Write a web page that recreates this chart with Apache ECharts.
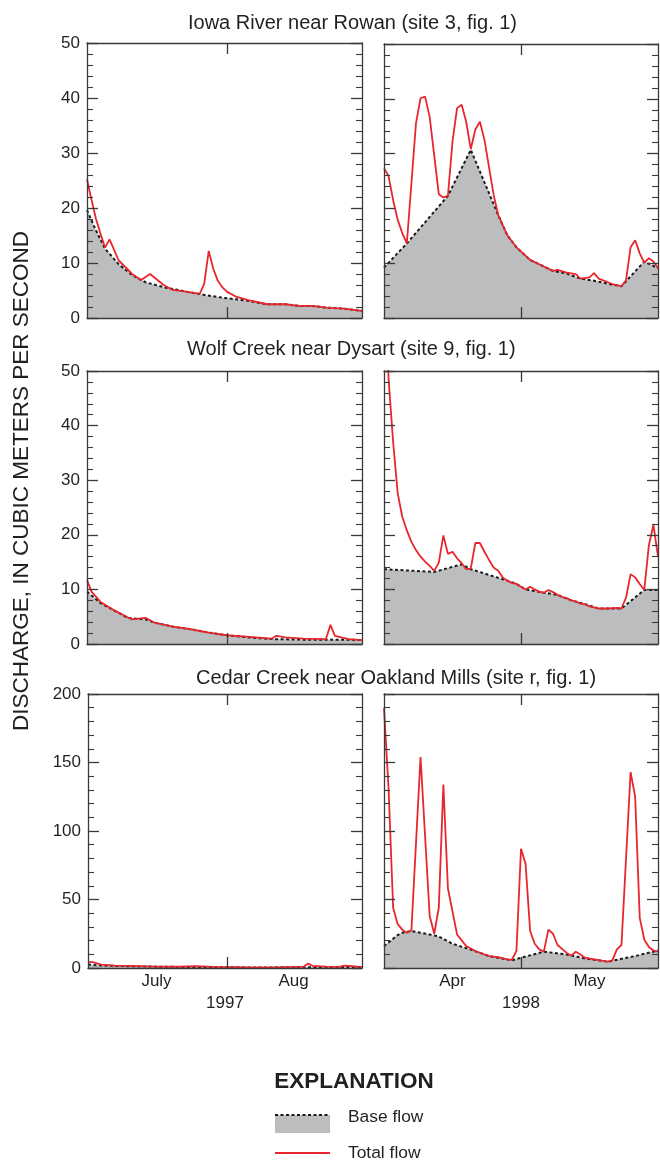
<!DOCTYPE html>
<html><head><meta charset="utf-8">
<script src="https://cdn.jsdelivr.net/npm/echarts@6/dist/echarts.min.js"></script>
<style>html,body{margin:0;padding:0;background:#fff}#c{width:660px;height:1162px}</style>
</head><body><div id="c"></div>
<script>
// ---- DATA (x = day of period: 0 = Jul 1 1997 / Apr 1 1998; y = discharge, m3/s) ----
const siteTitles = ['Iowa River near Rowan (site 3, fig. 1)', 'Wolf Creek near Dysart (site 9, fig. 1)', 'Cedar Creek near Oakland Mills (site r, fig. 1)'];
const months1997 = ['July', 'Aug'];
const months1998 = ['Apr', 'May'];
const yearLabels = ['1997', '1998'];
const yTitle = 'DISCHARGE, IN CUBIC METERS PER SECOND';
const legendLabels = ['EXPLANATION', 'Base flow', 'Total flow'];

const iowa1997Total = [[0,25.2],[1,21.5],[2,18.0],[3,15.3],[4,12.8],[5,14.3],[7,10.5],[10,8.0],[12,6.9],[14,8.0],[17,6.0],[19,5.1],[22,4.8],[25,4.4],[26,6.2],[27,12.2],[28,9.0],[29,6.8],[30,5.6],[31,4.8],[33,3.9],[36,3.2],[40,2.5],[44,2.5],[47,2.2],[50,2.2],[53,1.9],[57,1.7],[61,1.3]];
const iowa1997Base = [[0,19.6],[2,15.9],[4,12.6],[7,9.8],[10,7.8],[13,6.5],[17,5.6],[22,4.8],[26,4.2],[30,3.7],[35,3.2],[40,2.5],[44,2.5],[47,2.2],[50,2.2],[53,1.9],[57,1.7],[61,1.3]];

const iowa1998Total = [[0,27.3],[1,25.9],[2,21.5],[3,17.9],[4,15.5],[5,13.6],[7,35.5],[8,40.1],[9,40.4],[10,36.7],[12,22.6],[13,22.0],[14,22.3],[15,32.2],[16,38.3],[17,38.9],[18,35.8],[19,30.8],[20,34.4],[21,35.8],[22,32.5],[23,27.5],[24,22.5],[25,18.8],[27,15.1],[29,12.9],[32,10.6],[35,9.4],[37,8.6],[38,8.8],[40,8.3],[42,8.0],[43,7.2],[45,7.4],[46,8.2],[47,7.2],[50,6.2],[52,5.8],[53,6.9],[54,12.9],[55,14.2],[56,11.8],[57,10.1],[58,10.9],[59,10.3],[60,9.1]];
const iowa1998Base = [[0,9.2],[5,13.6],[14,22.3],[19,30.7],[25,18.8],[27,15.1],[29,12.9],[32,10.6],[35,9.4],[37,8.6],[40,8.1],[43,7.2],[46,6.8],[50,6.1],[52,5.8],[57,10.3],[60,9.1]];

const wolf1997Total = [[0,11.7],[1,9.6],[3,7.7],[6,6.2],[9,4.9],[10,4.5],[13,4.8],[15,3.9],[19,3.2],[23,2.7],[27,2.1],[31,1.6],[36,1.3],[41,1.0],[42,1.5],[44,1.2],[48,1.0],[53,0.9],[54,3.5],[55,1.5],[58,0.9],[61,0.7]];
const wolf1997Base = [[0,9.6],[3,7.5],[9,4.8],[13,4.5],[15,3.9],[19,3.2],[23,2.7],[27,2.1],[31,1.6],[36,1.2],[41,0.9],[48,0.8],[53,0.8],[58,0.8],[61,0.7]];

const wolf1998Total = [[0,80],[1,48.5],[2,37],[3,27.6],[4,23.3],[5,20.8],[6,18.7],[7,17.2],[8,16.0],[9,15.1],[10,14.3],[11,13.4],[12,14.9],[13,19.9],[14,16.5],[15,16.9],[16,15.7],[17,14.8],[18,13.7],[19,13.8],[20,18.5],[21,18.5],[22,16.9],[23,15.4],[24,14.0],[25,13.4],[26,12.2],[27,11.6],[28,11.2],[29,11.0],[30,10.5],[31,10.0],[32,10.5],[33,10.0],[34,9.6],[35,9.4],[36,9.9],[37,9.5],[38,9.0],[39,8.6],[40,8.4],[41,8.0],[42,7.8],[43,7.4],[44,7.3],[45,6.9],[46,6.7],[47,6.5],[49,6.5],[51,6.6],[52,6.5],[53,8.5],[54,12.8],[55,12.2],[56,11.0],[57,9.9],[58,18.1],[59,21.8],[60,16.0]];
const wolf1998Base = [[0,13.7],[11,13.2],[17,14.6],[19,13.7],[27,11.6],[29,11.0],[31,10.0],[35,9.4],[38,9.0],[41,8.0],[44,7.3],[47,6.5],[52,6.5],[57,9.9],[60,9.9]];

const cedar1997Total = [[0,4.5],[1,4.3],[3,2.5],[6,1.8],[10,1.5],[15,1.0],[20,0.9],[24,1.3],[28,0.8],[35,0.5],[42,0.5],[46,0.8],[48,1.0],[49,3.2],[50,1.6],[53,1.0],[56,0.8],[57,1.8],[58,1.6],[60,0.9],[61,0.8]];
const cedar1997Base = [[0,2.5],[3,1.8],[10,1.2],[20,0.8],[30,0.5],[40,0.4],[48,0.6],[55,0.6],[61,0.8]];

const cedar1998Total = [[0,190],[1,131],[2,44],[3,32],[4,28],[5,25.7],[6,27.4],[8,154],[10,38],[11,25],[12,44],[13,134],[14,58],[16,24.5],[18,16],[20,12.4],[23,8.7],[25,8],[27,6.3],[28,6.0],[29,12.4],[30,87],[31,76],[32,27],[33,17.7],[34,13.6],[35,12],[36,28],[37,25],[38,16.8],[40,11],[41,9],[42,11.9],[43,9.9],[44,7.5],[46,6.3],[49,4.6],[50,5.5],[51,13.6],[52,16.8],[54,143],[55,125],[56,36.6],[57,20.8],[58,15.3],[59,12.8],[60,12]];
const cedar1998Base = [[0,16],[3,24],[4,25.7],[6,27],[10,24.5],[12,23],[15,17.7],[19,13.4],[23,8.7],[28,5.6],[30,7.5],[35,11.9],[40,9.9],[44,7.0],[49,4.6],[55,8.7],[60,12.8]];

// ---- LAYOUT ----
const FONT = '"Liberation Sans", Arial, Helvetica, sans-serif';
const TXT = '#231f20';
const AX = '#3a3a3a';
const RED = '#e8262d';
const GRAY = '#bcbdbf';

const panels = [
  {grid:{left:87, top:43, width:275, height:275}, xMax:61, mTick:31, yMax:50, yStep:10, yLab:true, total:iowa1997Total, base:iowa1997Base},
  {grid:{left:384, top:44, width:274, height:274}, xMax:60, mTick:30, yMax:50, yStep:10, yLab:false, total:iowa1998Total, base:iowa1998Base},
  {grid:{left:87, top:371, width:275, height:273}, xMax:61, mTick:31, yMax:50, yStep:10, yLab:true, total:wolf1997Total, base:wolf1997Base},
  {grid:{left:384, top:371, width:274, height:273}, xMax:60, mTick:30, yMax:50, yStep:10, yLab:false, total:wolf1998Total, base:wolf1998Base},
  {grid:{left:88, top:694, width:274, height:274}, xMax:61, mTick:31, yMax:200, yStep:50, yLab:true, total:cedar1997Total, base:cedar1997Base, months:months1997, year:yearLabels[0]},
  {grid:{left:384, top:694, width:274, height:274}, xMax:60, mTick:30, yMax:200, yStep:50, yLab:false, total:cedar1998Total, base:cedar1998Base, months:months1998, year:yearLabels[1]}
];

const grids = [], xAxes = [], yAxes = [], series = [];
const axLine = {show:true, onZero:false, lineStyle:{color:AX, width:1.3}};
panels.forEach((p, i) => {
  grids.push(Object.assign({containLabel:false}, p.grid));
  const xi = xAxes.length;
  ['bottom', 'top'].forEach(pos => xAxes.push({
    type:'value', gridIndex:i, position:pos, min:0, max:p.xMax, z:10,
    axisLine:axLine, axisLabel:{show:false}, splitLine:{show:false},
    axisTick:{show:true, inside:true, length:11, lineStyle:{color:AX, width:1.3}, customValues:[p.mTick]}
  }));
  if (p.months) {
    xAxes.push({
      type:'category', gridIndex:i, position:'bottom', data:p.months, boundaryGap:true,
      axisLine:{show:false, onZero:false}, axisTick:{show:false}, splitLine:{show:false},
      axisLabel:{show:true, margin:5, fontSize:17, color:TXT, fontFamily:FONT},
      name:p.year, nameLocation:'middle', nameGap:27,
      nameTextStyle:{fontSize:17, color:TXT, fontFamily:FONT, verticalAlign:'top'}
    });
  }
  const yi = yAxes.length;
  ['left', 'right'].forEach(pos => yAxes.push({
    type:'value', gridIndex:i, position:pos, min:0, max:p.yMax, interval:p.yStep, z:10,
    axisLine:axLine, splitLine:{show:false}, minorSplitLine:{show:false},
    axisTick:{show:true, inside:true, length:11, lineStyle:{color:AX, width:1.3}},
    minorTick:{show:true, splitNumber:5, length:6, lineStyle:{color:AX, width:1.1}},
    axisLabel:{show:p.yLab && pos === 'left', margin:7, fontSize:17, color:TXT, fontFamily:FONT}
  }));
  series.push({
    type:'line', xAxisIndex:xi, yAxisIndex:yi, data:p.base, symbol:'none', z:2,
    lineStyle:{color:'#1a1a1a', width:2, type:[3,2.5]},
    areaStyle:{color:GRAY, opacity:1}, animation:false
  });
  series.push({
    type:'line', xAxisIndex:xi, yAxisIndex:yi, data:p.total, symbol:'none', z:3,
    lineStyle:{color:RED, width:1.8}, animation:false
  });
});

const titleTops = [13, 339, 668];
const titleLefts = [188, 187, 196];
const titles = siteTitles.map((t, i) => ({
  text:t, left:titleLefts[i], top:titleTops[i], padding:0,
  textStyle:{fontSize:20, fontWeight:'normal', color:TXT, fontFamily:FONT}
}));

const graphic = [
  {type:'text', x:22, y:481, rotation:Math.PI/2,
   style:{text:yTitle, fontSize:22.5, fill:TXT, fontFamily:FONT, textAlign:'center', textVerticalAlign:'middle'}},
  {type:'text', x:354, y:1082,
   style:{text:legendLabels[0], fontSize:22.5, fontWeight:'bold', fill:TXT, fontFamily:FONT, textAlign:'center', textVerticalAlign:'middle'}},
  {type:'rect', shape:{x:275, y:1115, width:55, height:18}, style:{fill:GRAY}},
  {type:'line', shape:{x1:275, y1:1115, x2:330, y2:1115}, style:{stroke:'#1a1a1a', lineWidth:2, lineDash:[3,2.5]}},
  {type:'text', x:348, y:1117, style:{text:legendLabels[1], fontSize:17.4, fill:TXT, fontFamily:FONT, textVerticalAlign:'middle'}},
  {type:'line', shape:{x1:275, y1:1153, x2:330, y2:1153}, style:{stroke:RED, lineWidth:1.8}},
  {type:'text', x:348, y:1153, style:{text:legendLabels[2], fontSize:17.4, fill:TXT, fontFamily:FONT, textVerticalAlign:'middle'}}
];

const chart = echarts.init(document.getElementById('c'), null, {renderer:'canvas'});
chart.setOption({
  backgroundColor:'#fff', animation:false,
  title:titles, grid:grids, xAxis:xAxes, yAxis:yAxes, series:series, graphic:graphic
});
</script></body></html>
